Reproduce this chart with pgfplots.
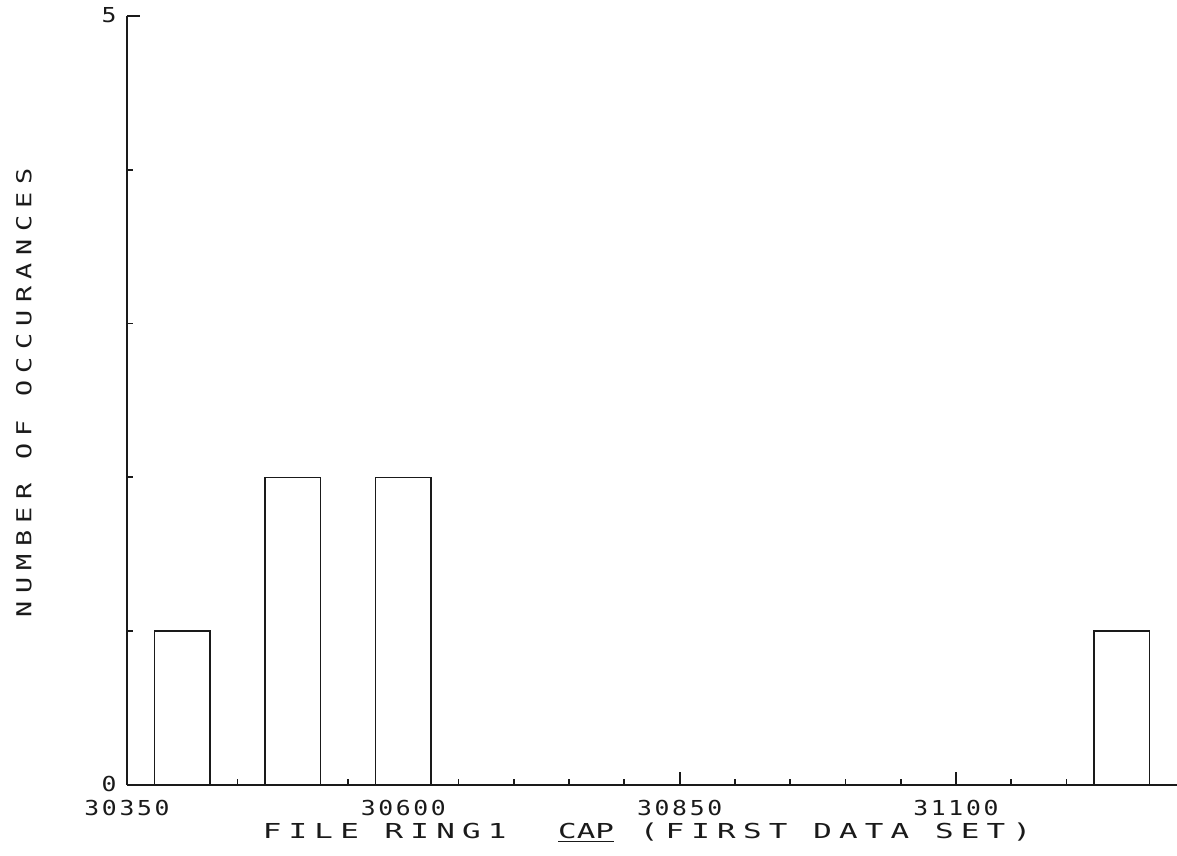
\documentclass[border=0pt]{standalone}
\usepackage{fontspec}
\usepackage{pgfplots}
\pgfplotsset{compat=1.18}
\newfontfamily\titlefont[FakeStretch=1.5,LetterSpace=35]{DejaVu Sans Mono}
\newfontfamily\ylabfont[FakeStretch=1.3,LetterSpace=36]{DejaVu Sans Mono}
\newfontfamily\tickfont[FakeStretch=1.2,LetterSpace=13]{DejaVu Sans Mono}
\definecolor{ink}{HTML}{1A1A1A}
\begin{document}
\begin{tikzpicture}
\path[use as bounding box] (-63.5pt,-35.5pt) rectangle (525pt,392.5pt);
\begin{axis}[
  at={(0pt,0pt)}, anchor=south west,
  scale only axis, width=525pt, height=384.5pt,
  xmin=30350, xmax=31300, ymin=0, ymax=5,
  axis lines=left, axis line style={-, line width=1.1pt, color=ink},
  tick align=inside,
  scaled ticks=false,
  xtick={30350,30600,30850,31100},
  xticklabels={30350,30600,30850,31100},
  minor xtick={30400,30450,30500,30550,30650,30700,30750,30800,30900,30950,31000,31050,31150,31200,31250},
  ytick={0,5}, yticklabels={0,5},
  minor ytick={1,2,3,4},
  major tick length=6.5pt, minor tick length=3pt,
  tick style={line width=0.9pt, color=ink},
  xticklabel style={font=\tickfont\fontsize{10.3}{12}\selectfont, text=ink, anchor=center, yshift=-11.5pt},
  yticklabel style={font=\tickfont\fontsize{10.3}{12}\selectfont, text=ink, anchor=center, xshift=-9pt, yshift=0.5pt},
  clip=false,
]
\addplot[ybar, bar width=50, bar shift=0pt, draw=ink, line width=0.8pt, fill=white]
  coordinates {(30400,1) (30500,2) (30600,2) (31250,1)};
\end{axis}
\node[rotate=90, font=\ylabfont\fontsize{10.3}{12}\selectfont, text=ink] at (-51.5pt,196pt) {NUMBER OF OCCURANCES};
\node[font=\titlefont\fontsize{10.3}{12}\selectfont, text=ink] at (260pt,-24pt) {FILE RING1\ \ \underline{C}\underline{A}\underline{P} (FIRST DATA SET)};
\end{tikzpicture}
\end{document}
